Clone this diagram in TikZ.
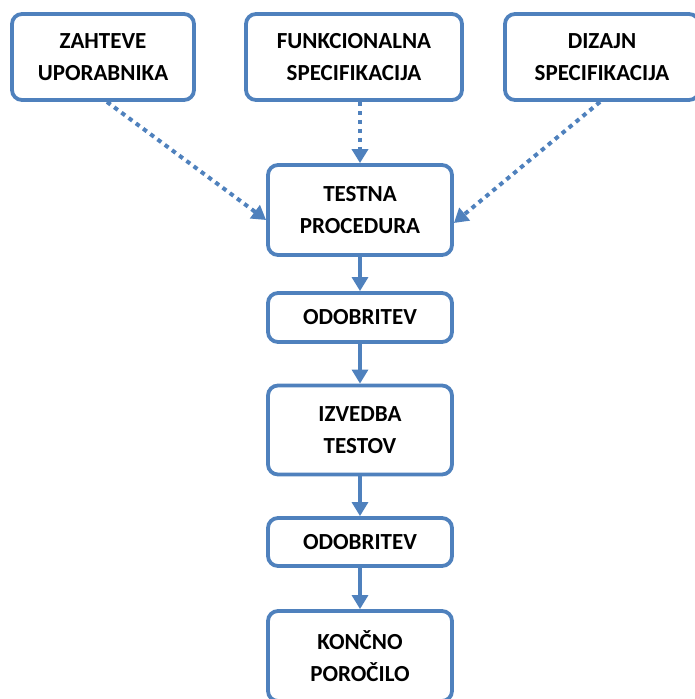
\documentclass[tikz,border=0pt]{standalone}
\usepackage{fontspec}
\setmainfont{Carlito}
\usetikzlibrary{arrows.meta}
\definecolor{boxblue}{RGB}{79,129,189}
\tikzset{
  box/.style={draw=boxblue, line width=3.8pt, rounded corners=10pt, fill=white,
    align=center, inner sep=0pt, font=\fontsize{23}{32}\selectfont\bfseries},
  flow/.style={draw=boxblue, line width=3.2pt, -{Triangle[length=14pt,width=16pt]}},
  feed/.style={flow, line width=4pt, dash pattern=on 4.5pt off 4.5pt},
}
\begin{document}
\begin{tikzpicture}[x=1pt,y=-1pt]
  \useasboundingbox (0,0) rectangle (695,699);
  \clip (0,0) rectangle (695,699);
  % source documents
  \node[box, minimum width=182pt, minimum height=86pt] (user) at (103,57) {ZAHTEVE\\UPORABNIKA};
  \node[box, minimum width=216pt, minimum height=86pt] (func) at (354,57) {FUNKCIONALNA\\SPECIFIKACIJA};
  \node[box, minimum width=194pt, minimum height=86pt] (design) at (602,57) {DIZAJN\\SPECIFIKACIJA};
  % main chain
  \node[box, minimum width=184pt, minimum height=90pt] (proc) at (360,210) {TESTNA\\PROCEDURA};
  \node[box, minimum width=184pt, minimum height=49pt] (appr1) at (360,317.5) {ODOBRITEV};
  \node[box, minimum width=184pt, minimum height=89pt] (exec) at (360,430) {IZVEDBA\\TESTOV};
  \node[box, minimum width=184pt, minimum height=48pt] (appr2) at (360,542) {ODOBRITEV};
  \node[box, minimum width=184pt, minimum height=90pt] (report) at (360,656) {KONČNO\\POROČILO};
  % inputs to the test procedure
  \coordinate (userout) at ([xshift=4pt]user.south);
  \coordinate (designout) at ([xshift=-2pt]design.south);
  \draw[feed] (userout) -- ([yshift=-10pt]proc.west);
  \draw[feed] (func.south -| proc.north) -- (proc.north);
  \draw[feed] (designout) -- ([yshift=-13pt]proc.east);
  % sequence
  \draw[flow] (proc) -- (appr1);
  \draw[flow] (appr1) -- (exec);
  \draw[flow] (exec) -- (appr2);
  \draw[flow] (appr2) -- (report);
\end{tikzpicture}
\end{document}
